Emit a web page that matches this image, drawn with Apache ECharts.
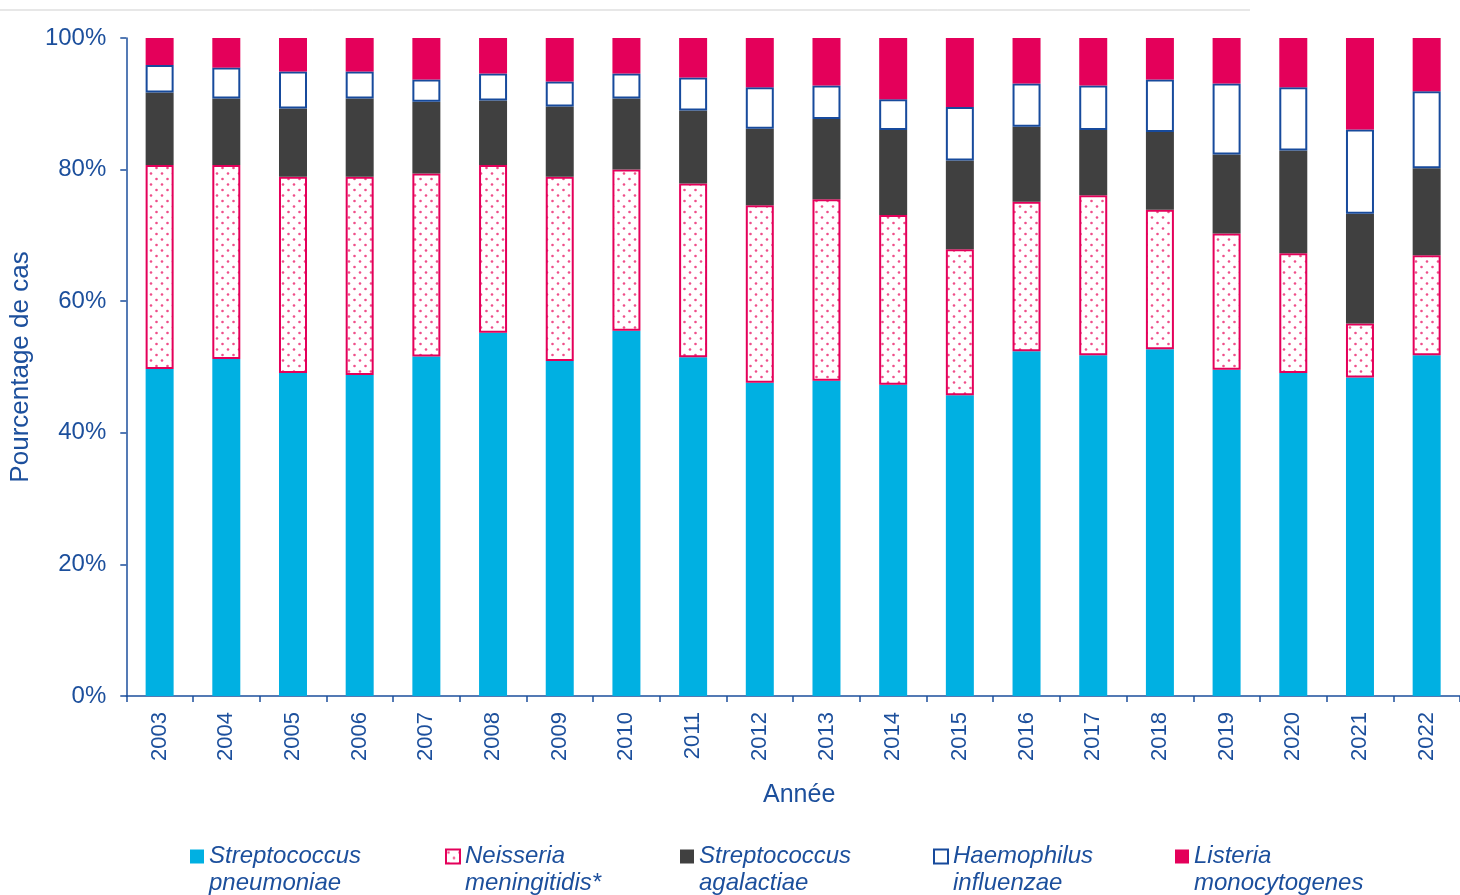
<!DOCTYPE html>
<html>
<head>
<meta charset="utf-8">
<script src="https://cdn.jsdelivr.net/npm/echarts@6/dist/echarts.min.js"></script>
<style>
    html, body { margin: 0; padding: 0; background: #fff; }
    #chart { width: 1460px; height: 895px; }
</style>
</head>
<body>
<div id="chart"></div>
<script>
// data (percent of cases per year)
const years = ["2003", "2004", "2005", "2006", "2007", "2008", "2009", "2010", "2011", "2012",
    "2013", "2014", "2015", "2016", "2017", "2018", "2019", "2020", "2021", "2022"];
const pneumoniae = [49.7, 51.2, 49.1, 48.8, 51.6, 55.2, 50.9, 55.5, 51.5, 47.6,
    47.9, 47.3, 45.7, 52.4, 51.8, 52.7, 49.6, 49.1, 48.4, 51.8];
const meningitidis = [31.0, 29.5, 29.8, 30.1, 27.8, 25.5, 28.0, 24.5, 26.4, 27.0,
    27.6, 25.8, 22.2, 22.7, 24.3, 21.2, 20.7, 18.2, 8.2, 15.2];
const agalactiae = [11.0, 10.1, 10.4, 11.9, 10.9, 9.8, 10.7, 10.8, 11.1, 11.6,
    12.2, 12.9, 13.5, 11.4, 9.9, 11.8, 12.0, 15.6, 16.7, 13.2];
const influenzae = [4.2, 4.7, 5.6, 4.1, 3.4, 4.1, 3.8, 3.8, 5.0, 6.3,
    5.1, 4.7, 8.1, 6.6, 6.8, 8.0, 10.8, 9.6, 12.8, 11.7];
const monocytogenes = [4.1, 4.5, 5.1, 5.1, 6.3, 5.4, 6.6, 5.4, 6.0, 7.5,
    7.2, 9.3, 10.5, 6.9, 7.2, 6.3, 6.9, 7.5, 13.9, 8.1];
const yTicks = [0, 20, 40, 60, 80, 100];

const names = [
    "Streptococcus\npneumoniae",
    "Neisseria\nmeningitidis*",
    "Streptococcus\nagalactiae",
    "Haemophilus\ninfluenzae",
    "Listeria\nmonocytogenes",
];

const textBlue = "#1c4f9c";
const pink = "#e4005a";
const font = "Liberation Sans, Arial";

// dotted fill for N. meningitidis
const dots = document.createElement("canvas");
dots.width = 11;
dots.height = 11;
const dctx = dots.getContext("2d");
dctx.fillStyle = "#fff";
dctx.fillRect(0, 0, 11, 11);
dctx.fillStyle = "#ef4f8a";
[[2.5, 3], [8, 8.5]].forEach(([x, y]) => {
    dctx.beginPath();
    dctx.arc(x, y, 1.3, 0, Math.PI * 2);
    dctx.fill();
});

const seriesFn = (name, data, itemStyle) => ({
    name: name,
    type: "bar",
    stack: "total",
    barWidth: 28,
    data: data,
    itemStyle: itemStyle,
    emphasis: { disabled: true },
});

const legendLeft = [190, 445, 680, 933, 1175];
const legends = names.map((name, i) => ({
    data: [name],
    left: legendLeft[i],
    top: 816,
    padding: 0,
    icon: "rect",
    itemWidth: 14,
    itemHeight: 14,
    itemGap: 6,
    selectedMode: false,
    // blank first line keeps the icon level with the first text line
    formatter: (n) => "\n" + n,
    textStyle: {
        color: textBlue,
        fontFamily: font,
        fontStyle: "italic",
        fontSize: 24,
        lineHeight: 27,
        padding: [0, 0, 0, 0],
    },
}));

const option = {
    animation: false,
    grid: { left: 126, right: 0, top: 38, bottom: 199 },
    legend: legends,
    graphic: [{
        type: "line",
        shape: { x1: 0, y1: 10, x2: 1250, y2: 10 },
        style: { stroke: "#cfcfcf", lineWidth: 1 },
    }],
    xAxis: {
        type: "category",
        data: years,
        name: "Année",
        nameLocation: "middle",
        nameGap: 87,
        nameTextStyle: { color: textBlue, fontFamily: font, fontSize: 25, padding: [0, 0, 0, 12] },
        axisLine: { lineStyle: { color: textBlue, width: 1.5 } },
        axisTick: { show: true, length: 6, lineStyle: { color: textBlue, width: 1.5 } },
        axisLabel: {
            rotate: 90,
            margin: 16,
            color: textBlue,
            fontFamily: font,
            fontSize: 22,
        },
    },
    yAxis: {
        type: "value",
        min: yTicks[0],
        max: yTicks[yTicks.length - 1],
        interval: 20,
        name: "Pourcentage de cas",
        nameLocation: "middle",
        nameGap: 90,
        nameTextStyle: { color: textBlue, fontFamily: font, fontSize: 26 },
        axisLine: { show: true, lineStyle: { color: textBlue, width: 1.5 } },
        axisTick: { show: true, length: 6, lineStyle: { color: textBlue, width: 1.5 } },
        splitLine: { show: false },
        axisLabel: {
            margin: 20,
            color: textBlue,
            fontFamily: font,
            fontSize: 24,
            formatter: "{value}%",
        },
    },
    series: [
        seriesFn(names[0], pneumoniae, { color: "#00b0e2" }),
        seriesFn(names[1], meningitidis, {
            color: { image: dots, repeat: "repeat" },
            borderColor: pink,
            borderWidth: 2,
        }),
        seriesFn(names[2], agalactiae, { color: "#404040" }),
        seriesFn(names[3], influenzae, { color: "#ffffff", borderColor: "#174a9c", borderWidth: 2 }),
        seriesFn(names[4], monocytogenes, { color: pink }),
    ],
};

const myChart = echarts.init(document.getElementById("chart"));
myChart.setOption(option);
</script>
</body>
</html>
